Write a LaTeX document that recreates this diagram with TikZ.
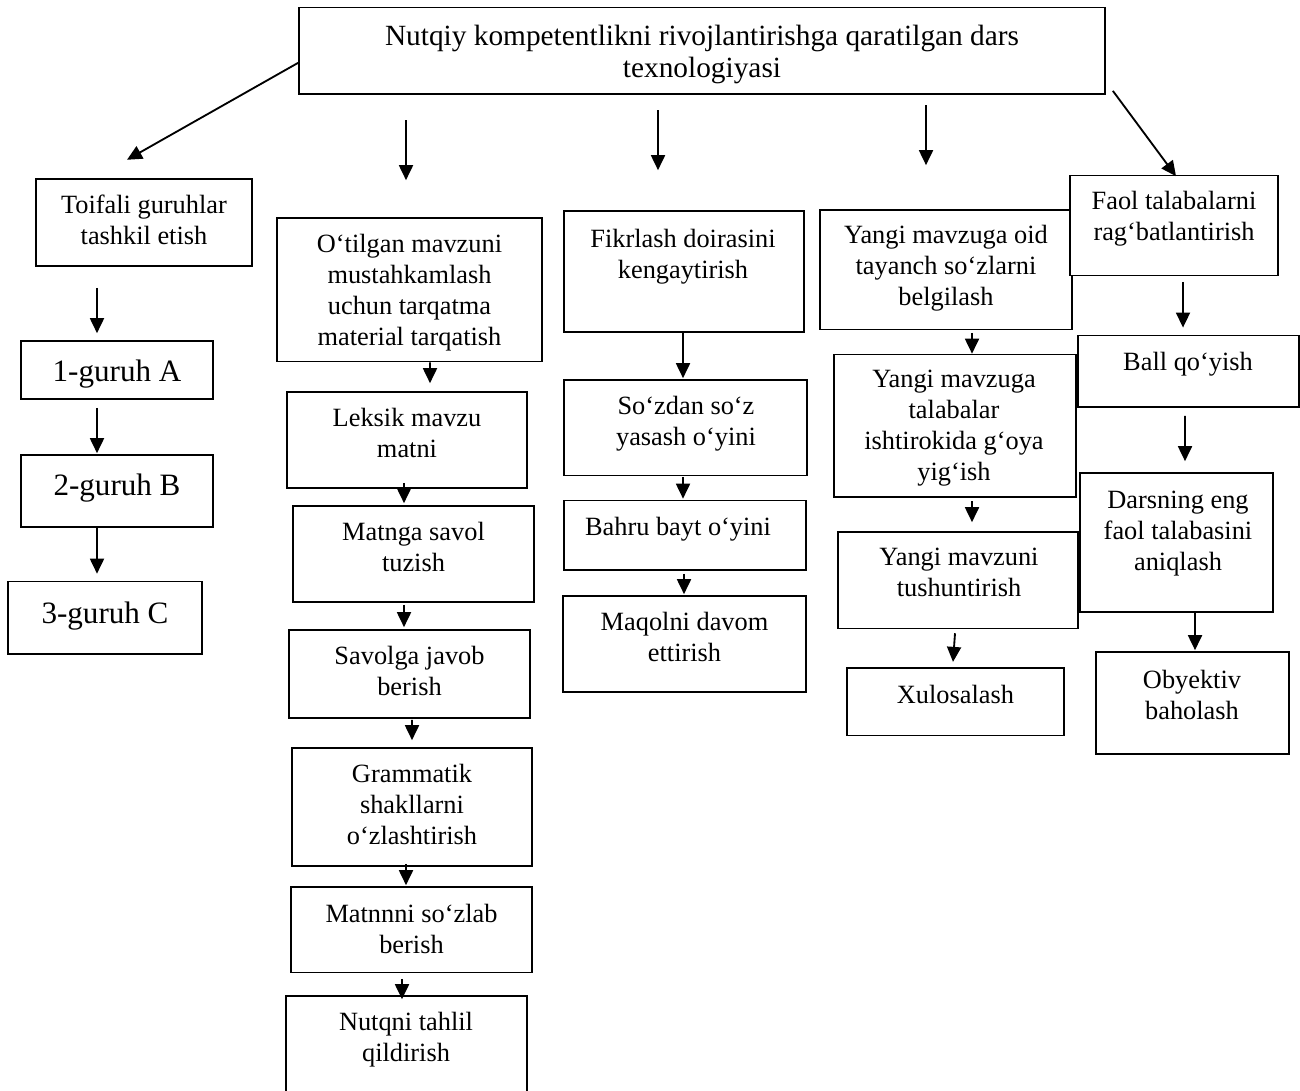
\documentclass[tikz,border=0pt]{standalone}
\usepackage{fontspec}
\setmainfont{Liberation Serif}
\usetikzlibrary{arrows.meta,fit}
\tikzset{
	box/.style={draw, line width=0.95pt, fill=white, inner sep=0pt},
	txt/.style={align=center, inner sep=0pt, anchor=north, font=\fontsize{15}{17.6}\selectfont},
	ttl/.style={txt, font=\fontsize{16.7}{17.9}\selectfont},
	big/.style={txt, font=\fontsize{17.7}{21}\selectfont},
	arr/.style={-{Triangle[length=0.3cm,width=0.28cm]}, line width=1.05pt}
}
\begin{document}
\begin{tikzpicture}[x=0.02cm, y=-0.02cm]
	\useasboundingbox (0,0) rectangle (1300,1090);
	% title
	\node [box, fit={(299,7.6) (1105,94)}] (tit) {};
	\node [ttl] (tit-t) at (702,25) {Nutqiy kompetentlikni rivojlantirishga qaratilgan dars\\texnologiyasi};
	% first column
	\node [box, fit={(36,179) (252,266)}] (toif) {};
	\node [txt] (toif-t) at (144,195) {Toifali guruhlar\\tashkil etish};
	\node [box, fit={(21,341) (213,399)}] (g1) {};
	\node [big] (g1-t) at (117,360) {1-guruh A};
	\node [box, fit={(21,455) (213,527)}] (g2) {};
	\node [big] (g2-t) at (117,474) {2-guruh B};
	\node [box, fit={(8,581.5) (202,654)}] (g3) {};
	\node [big] (g3-t) at (105,602) {3-guruh C};
	% second column
	\node [box, fit={(277,218) (542,361.5)}] (otil) {};
	\node [txt] (otil-t) at (409.5,234) {O‘tilgan mavzuni\\mustahkamlash\\uchun tarqatma\\material tarqatish};
	\node [box, fit={(287,392) (527,488)}] (leks) {};
	\node [txt] (leks-t) at (407,408) {Leksik mavzu\\matni};
	\node [box, fit={(293,506) (534,602)}] (matn) {};
	\node [txt] (matn-t) at (413.5,522) {Matnga savol\\tuzish};
	\node [box, fit={(289,630) (530,718)}] (sav) {};
	\node [txt] (sav-t) at (409.5,646) {Savolga javob\\berish};
	\node [box, fit={(292,748) (532,866)}] (gram) {};
	\node [txt] (gram-t) at (412,764) {Grammatik\\shakllarni\\o‘zlashtirish};
	\node [box, fit={(291,887) (532,972.5)}] (matnn) {};
	\node [txt] (matnn-t) at (411.5,904) {Matnnni so‘zlab\\berish};
	\node [box, fit={(286,996) (527,1100)}] (nutq) {};
	\node [txt] (nutq-t) at (406,1012) {Nutqni tahlil\\qildirish};
	% third column
	\node [box, fit={(564,211) (804,332)}] (fikr) {};
	\node [txt] (fikr-t) at (683,229) {Fikrlash doirasini\\kengaytirish};
	\node [box, fit={(564,380) (807,475.5)}] (soz) {};
	\node [txt] (soz-t) at (686,396) {So‘zdan so‘z\\yasash o‘yini};
	\node [box, fit={(564,500.5) (806,570)}] (bahru) {};
	\node [txt] (bahru-t) at (678,517) {Bahru bayt o‘yini};
	\node [box, fit={(563,596) (806,692)}] (maq) {};
	\node [txt] (maq-t) at (684.5,612) {Maqolni davom\\ettirish};
	% fourth column
	\node [box, fit={(820,210) (1072,329.5)}] (yoid) {};
	\node [txt] (yoid-t) at (946,225) {Yangi mavzuga oid\\tayanch so‘zlarni\\belgilash};
	\node [box, fit={(834,354.5) (1076,497)}] (ytal) {};
	\node [txt] (ytal-t) at (954,370) {Yangi mavzuga\\talabalar\\ishtirokida g‘oya\\yig‘ish};
	\node [box, fit={(838,532) (1078,628.4)}] (ytush) {};
	\node [txt] (ytush-t) at (959,548) {Yangi mavzuni\\tushuntirish};
	\node [box, fit={(847,667.7) (1064,735.5)}] (xul) {};
	\node [txt] (xul-t) at (955.5,685) {Xulosalash};
	% fifth column
	\node [box, fit={(1070,175.5) (1278,275.6)}] (faol) {};
	\node [txt] (faol-t) at (1174,190.5) {Faol talabalarni\\rag‘batlantirish};
	\node [box, fit={(1078,335.4) (1299,407)}] (ball) {};
	\node [txt] (ball-t) at (1188,352) {Ball qo‘yish};
	\node [box, fit={(1080,473) (1273,612)}] (dars) {};
	\node [txt] (dars-t) at (1178,491) {Darsning eng\\faol talabasini\\aniqlash};
	\node [box, fit={(1096,652) (1289,754)}] (oby) {};
	\node [txt] (oby-t) at (1192,669.5) {Obyektiv\\baholash};
	% arrows from the title
	\draw [arr] ([shift={(0,12)}]tit.west) -- ([shift={(-17,-18.4)}]toif.north);
	\draw [arr] ([shift={(-3.5,-97)}]otil.north) -- ([shift={(-3.5,-37)}]otil.north);
	\draw [arr] ([shift={(-26,-100)}]fikr.north) -- ([shift={(-26,-40)}]fikr.north);
	\draw [arr] ([shift={(-20,-104)}]yoid.north) -- ([shift={(-20,-44)}]yoid.north);
	\draw [arr] ([shift={(7,-4)}]tit.south east) -- ([shift={(2,1.5)}]faol.north);
	% arrows inside the columns
	\draw [arr] ([shift={(-47,21)}]toif.south) -- ([shift={(-20,-7)}]g1.north);
	\draw [arr] ([shift={(-20,8)}]g1.south) -- ([shift={(-20,-1)}]g2.north);
	\draw [arr] ([shift={(-20,0)}]g2.south) -- ([shift={(-8,-7)}]g3.north);
	\draw [arr] ([shift={(20.5,0)}]otil.south) -- ([shift={(23,-8)}]leks.north);
	\draw [arr] ([shift={(-3,-6)}]leks.south) -- ([shift={(-9.5,-2)}]matn.north);
	\draw [arr] ([shift={(-9.5,2)}]matn.south) -- ([shift={(-5.5,-2)}]sav.north);
	\draw [arr] ([shift={(2.5,1)}]sav.south) -- ([shift={(0,-7)}]gram.north);
	\draw [arr] ([shift={(-6,-3)}]gram.south) -- ([shift={(-5.5,-1)}]matnn.north);
	\draw [arr] ([shift={(-9.5,5.5)}]matnn.south) -- ([shift={(-4.5,4)}]nutq.north);
	\draw [arr] ([shift={(-1,0)}]fikr.south) -- ([shift={(-2.5,-1)}]soz.north);
	\draw [arr] ([shift={(-2.5,0.5)}]soz.south) -- ([shift={(-2,-1)}]bahru.north);
	\draw [arr] ([shift={(-1,3)}]bahru.south) -- ([shift={(-0.5,-1)}]maq.north);
	\draw [arr] ([shift={(26,2.5)}]yoid.south) -- ([shift={(17,0)}]ytal.north);
	\draw [arr] ([shift={(17,3.5)}]ytal.south) -- ([shift={(14,-9)}]ytush.north);
	\draw [arr] ([shift={(-3,4)}]ytush.south) -- ([shift={(-2.5,-5)}]xul.north);
	\draw [arr] ([shift={(9,5.4)}]faol.south) -- ([shift={(-5.5,-7)}]ball.north);
	\draw [arr] ([shift={(-3.5,8)}]ball.south) -- ([shift={(8.5,-11)}]dars.north);
	\draw [arr] ([shift={(18.5,0)}]dars.south) -- ([shift={(2.5,-1)}]oby.north);
\end{tikzpicture}
\end{document}
